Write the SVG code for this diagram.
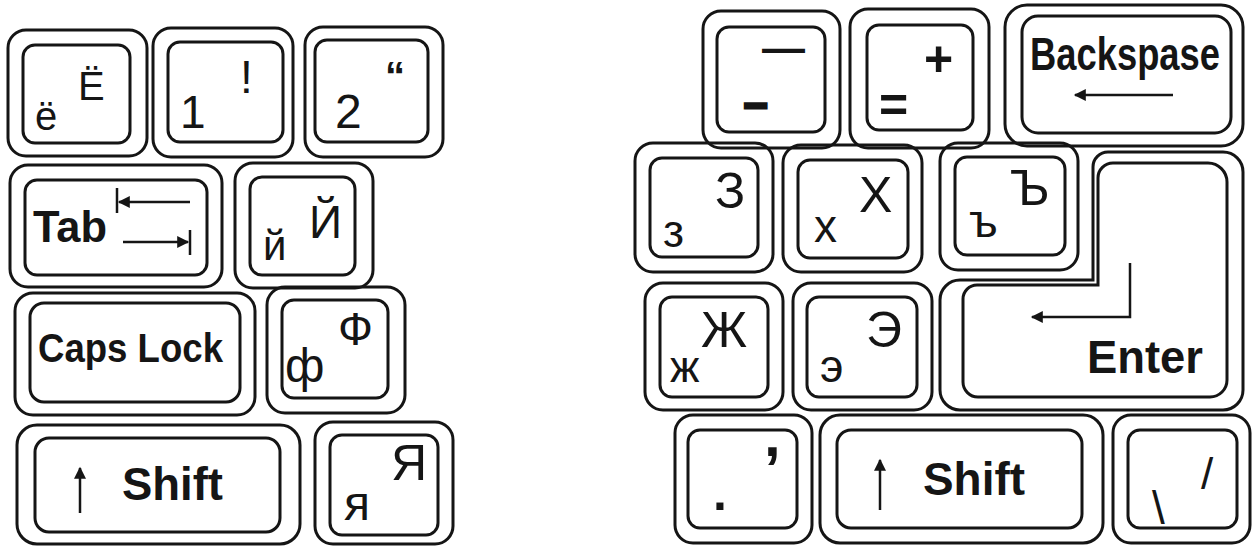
<svg xmlns="http://www.w3.org/2000/svg" width="1255" height="546" viewBox="0 0 1255 546">
<style>
.k{fill:none;stroke:#151515;stroke-width:3}
.t{font-family:"Liberation Sans",Arial,sans-serif;fill:#151515}
.b{font-weight:bold}
.ln{fill:none;stroke:#151515;stroke-width:2.5}
</style>
<defs>
<marker id="ah" viewBox="0 0 10 10" refX="9" refY="5" markerWidth="15" markerHeight="12" markerUnits="userSpaceOnUse" orient="auto">
<path d="M0,0 L10,5 L0,10 z" fill="#151515"/>
</marker>
</defs>
<rect width="1255" height="546" fill="#ffffff"/>

<g id="key-yo">
<rect class="k" x="8" y="30" width="139" height="126" rx="18"/>
<rect class="k" x="23" y="45" width="107" height="98" rx="12"/>
<text class="t" x="35" y="130" font-size="40">ё</text>
<text class="t" x="78" y="100" font-size="40">Ё</text>
</g>
<g id="key-1">
<rect class="k" x="153" y="28" width="140" height="129" rx="18"/>
<rect class="k" x="168" y="42" width="115" height="100" rx="12"/>
<text class="t" x="180" y="128" font-size="46">1</text>
<text class="t" x="240" y="93" font-size="46">!</text>
</g>
<g id="key-2">
<rect class="k" x="305" y="27" width="138" height="130" rx="18"/>
<rect class="k" x="315" y="40" width="113" height="102" rx="12"/>
<text class="t" x="335" y="128" font-size="48">2</text>
<text class="t b" x="385" y="90" font-size="40">“</text>
</g>
<g id="key-tab">
<rect class="k" x="10" y="165" width="212" height="122" rx="18"/>
<rect class="k" x="25" y="180" width="182" height="95" rx="12"/>
<text class="t b" x="33" y="242" font-size="44" textLength="74" lengthAdjust="spacingAndGlyphs">Tab</text>
<line class="ln" x1="190" y1="202" x2="119" y2="202" marker-end="url(#ah)"/>
<line class="ln" x1="117" y1="188" x2="117" y2="213"/>
<line class="ln" x1="123" y1="242" x2="188" y2="242" marker-end="url(#ah)"/>
<line class="ln" x1="190" y1="230" x2="190" y2="255"/>
</g>
<g id="key-ji">
<rect class="k" x="235" y="163" width="138" height="125" rx="18"/>
<rect class="k" x="250" y="177" width="105" height="98" rx="12"/>
<text class="t" x="263" y="260" font-size="42">й</text>
<text class="t" x="309" y="238" font-size="46">Й</text>
</g>
<g id="key-caps">
<rect class="k" x="15" y="293" width="240" height="122" rx="18"/>
<rect class="k" x="30" y="303" width="210" height="99" rx="14"/>
<text class="t b" x="38" y="362" font-size="40" textLength="185" lengthAdjust="spacingAndGlyphs">Caps Lock</text>
</g>
<g id="key-ef">
<rect class="k" x="267" y="287" width="138" height="126" rx="18"/>
<rect class="k" x="282" y="300" width="106" height="98" rx="12"/>
<text class="t" x="285" y="382" font-size="48">ф</text>
<text class="t" x="338" y="345" font-size="46">Ф</text>
</g>
<g id="key-shift-left">
<rect class="k" x="17" y="425" width="283" height="119" rx="20"/>
<rect class="k" x="35" y="438" width="245" height="94" rx="14"/>
<line class="ln" x1="80" y1="513" x2="80" y2="468" marker-end="url(#ah)"/>
<text class="t b" x="122" y="500" font-size="46" textLength="101" lengthAdjust="spacingAndGlyphs">Shift</text>
</g>
<g id="key-ya">
<rect class="k" x="315" y="422" width="138" height="122" rx="18"/>
<rect class="k" x="330" y="435" width="108" height="100" rx="12"/>
<text class="t" x="344" y="520" font-size="48">я</text>
<text class="t" x="391" y="480" font-size="50">Я</text>
</g>

<g id="key-minus">
<rect class="k" x="703" y="11" width="137" height="137" rx="18"/>
<rect class="k" x="717" y="27" width="108" height="105" rx="12"/>
<text class="t b" x="762" y="62" font-size="43">—</text>
<text class="t b" x="744" y="117" font-size="42" stroke="#151515" stroke-width="3">–</text>
</g>
<g id="key-equal">
<rect class="k" x="850" y="9" width="139" height="139" rx="18"/>
<rect class="k" x="867" y="25" width="106" height="105" rx="12"/>
<text class="t b" x="924" y="76" font-size="50">+</text>
<text class="t b" x="879" y="122" font-size="50">=</text>
</g>
<g id="key-backspace">
<rect class="k" x="1005" y="5" width="238" height="141" rx="22"/>
<rect class="k" x="1022" y="16" width="209" height="117" rx="16"/>
<text class="t b" transform="translate(1030,70) scale(1,1.22)" x="0" y="0" font-size="38" textLength="190" lengthAdjust="spacingAndGlyphs">Backspase</text>
<line class="ln" x1="1173" y1="95" x2="1075" y2="95" marker-end="url(#ah)"/>
</g>
<g id="key-ze">
<rect class="k" x="635" y="143" width="138" height="129" rx="18"/>
<rect class="k" x="650" y="158" width="108" height="99" rx="12"/>
<text class="t" x="663" y="247" font-size="46">з</text>
<text class="t" x="715" y="208" font-size="50">З</text>
</g>
<g id="key-ha">
<rect class="k" x="783" y="145" width="139" height="127" rx="18"/>
<rect class="k" x="798" y="160" width="110" height="98" rx="12"/>
<text class="t" x="814" y="242" font-size="46">х</text>
<text class="t" x="859" y="212" font-size="50">Х</text>
</g>
<g id="key-hard">
<rect class="k" x="940" y="143" width="138" height="127" rx="18"/>
<rect class="k" x="955" y="157" width="110" height="98" rx="12"/>
<text class="t" x="969" y="237" font-size="46">ъ</text>
<text class="t" x="1010" y="205" font-size="50">Ъ</text>
</g>
<g id="key-enter">
<path class="k" d="M1108,152 H1223 A20,20 0 0 1 1243,172 V390 A20,20 0 0 1 1223,410 H960 A20,20 0 0 1 940,390 V300 A20,20 0 0 1 960,280 H1093 V167 A15,15 0 0 1 1108,152 Z"/>
<path class="k" d="M1113,163 H1208 A19,19 0 0 1 1227,182 V380 A17,17 0 0 1 1210,397 H978 A15,15 0 0 1 963,382 V299 A14,14 0 0 1 977,285 H1098 V178 A15,15 0 0 1 1113,163 Z"/>
<polyline class="ln" points="1130,263 1130,317 1032,317" marker-end="url(#ah)"/>
<text class="t b" x="1087" y="373" font-size="46" textLength="116" lengthAdjust="spacingAndGlyphs">Enter</text>
</g>
<g id="key-zhe">
<rect class="k" x="645" y="283" width="138" height="127" rx="18"/>
<rect class="k" x="660" y="297" width="108" height="100" rx="12"/>
<text class="t" x="670" y="382" font-size="44">ж</text>
<text class="t" x="701" y="347" font-size="50">Ж</text>
</g>
<g id="key-e">
<rect class="k" x="793" y="283" width="139" height="127" rx="18"/>
<rect class="k" x="807" y="297" width="110" height="100" rx="12"/>
<text class="t" x="820" y="382" font-size="46">э</text>
<text class="t" x="866" y="347" font-size="50">Э</text>
</g>
<g id="key-period">
<rect class="k" x="675" y="415" width="137" height="128" rx="18"/>
<rect class="k" x="688" y="430" width="109" height="98" rx="12"/>
<text class="t b" x="713" y="510" font-size="50">.</text>
<text class="t b" x="764" y="456" font-size="60">,</text>
</g>
<g id="key-shift-right">
<rect class="k" x="820" y="415" width="283" height="128" rx="20"/>
<rect class="k" x="837" y="430" width="245" height="98" rx="14"/>
<line class="ln" x1="880" y1="510" x2="880" y2="460" marker-end="url(#ah)"/>
<text class="t b" x="923" y="495" font-size="46" textLength="102" lengthAdjust="spacingAndGlyphs">Shift</text>
</g>
<g id="key-slash">
<rect class="k" x="1113" y="415" width="137" height="128" rx="18"/>
<rect class="k" x="1128" y="430" width="109" height="98" rx="12"/>
<text class="t" x="1152" y="524" font-size="46">\</text>
<text class="t" x="1201" y="489" font-size="44">/</text>
</g>
</svg>
